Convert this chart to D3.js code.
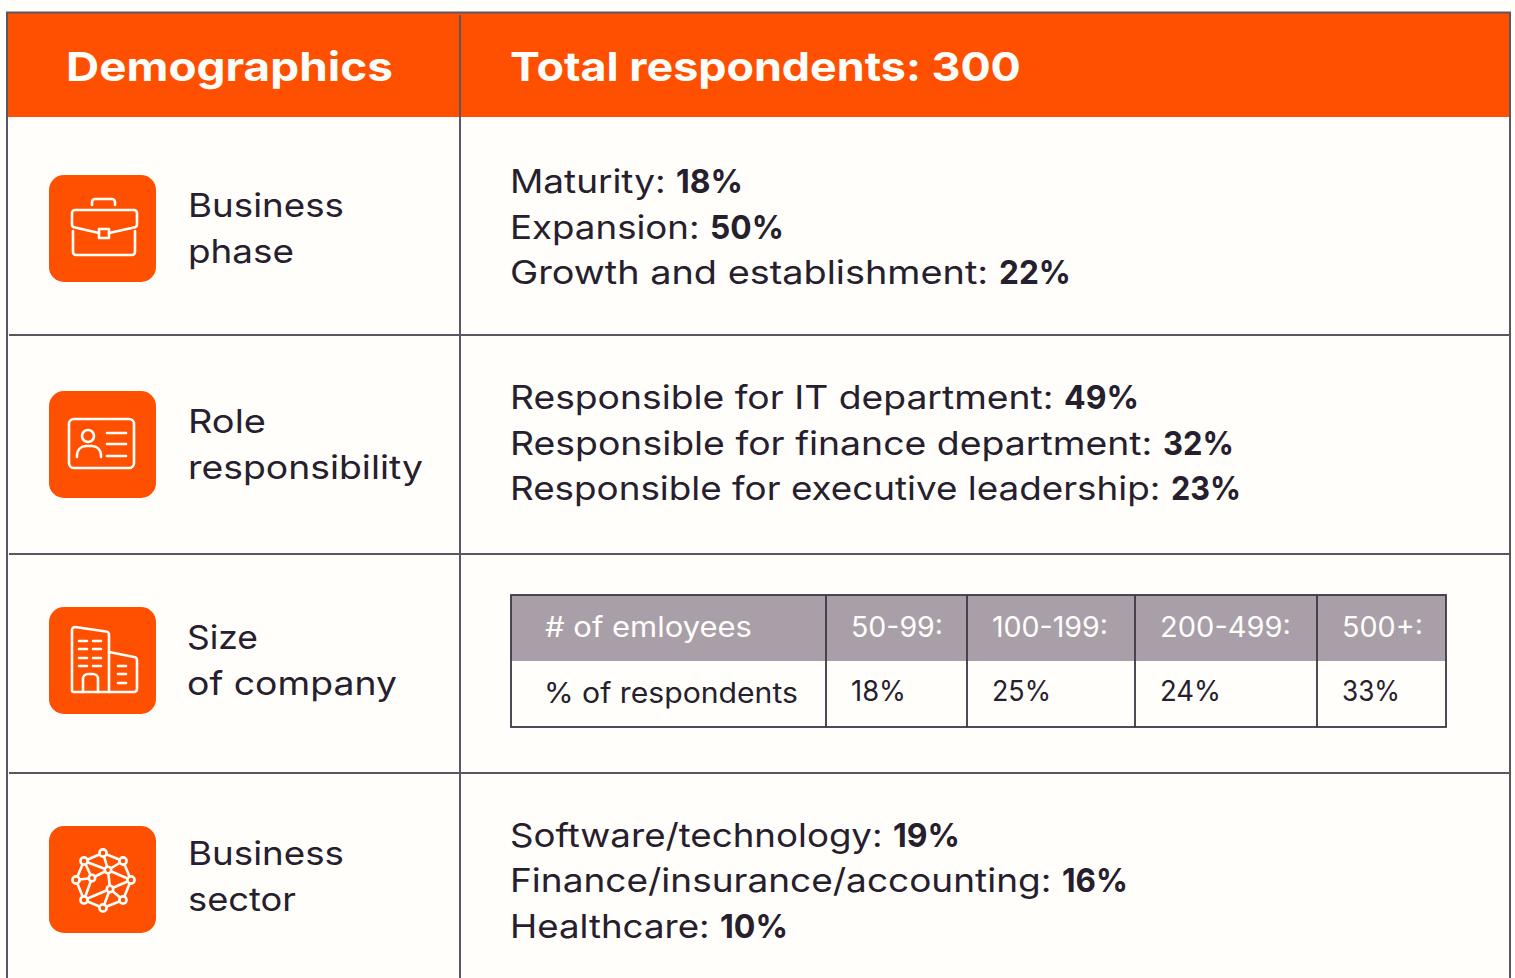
<!DOCTYPE html>
<html><head><meta charset="utf-8">
<script src="https://cdnjs.cloudflare.com/ajax/libs/d3/7.8.5/d3.min.js"></script>
<style>html,body{margin:0;padding:0;background:#fffefa;overflow:hidden}svg{display:block}text{font-family:Inter,"Noto Sans",sans-serif;white-space:pre}</style>
</head><body><svg id="c" width="1515" height="978"></svg>
<script>
const headers = ["Demographics", "Total respondents: 300"];
const rowLabels = [["Business","phase"],["Role","responsibility"],["Size","of company"],["Business","sector"]];
const phaseItems = [["Maturity: ","18%"],["Expansion: ","50%"],["Growth and establishment: ","22%"]];
const roleItems = [["Responsible for IT department: ","49%"],["Responsible for finance department: ","32%"],["Responsible for executive leadership: ","23%"]];
const sectorItems = [["Software/technology: ","19%"],["Finance/insurance/accounting: ","16%"],["Healthcare: ","10%"]];
const sizeHead = ["# of emloyees","50-99:","100-199:","200-499:","500+:"];
const sizeVals = ["% of respondents","18%","25%","24%","33%"];

// layout (pixels)
const C = {orange:"#ff4f00", line:"#5b5662", ink:"#26202e", bg:"#fffefa", grey:"#a89fa9", tline:"#3d3745"};
const rowY = [12,117,335,554,773,978];
const iconY = [175,391,607,826];
const labelX = [188,188,187,188];
const labelEnds = [[344,294],[266,423],[258,397],[344,296]];
const labelBase = [[217,263],[433,479],[649,695],[865,911]];
const boldStarts = [[676,710,999],[1064,1163,1171],[],[893,1062,720]];
const itemEnds = [[743,784,1071],[1139,1234,1241],[],[960,1128,788]];
const itemBase = [[193,239,284],[409,455,500],[],[847,892,938]];
const tableX = [511,826,967,1135,1317,1446];
const tableY = [595,661,727];
const headEnds = [752,943,1108,1291,1423];
const valEnds = [798,906,1051,1221,1400];
const valBase = [703,701,701,701,701];

const svg = d3.select("#c");
svg.append("rect").attr("width",1515).attr("height",978).attr("fill",C.bg);

// fit a text's run to a target right edge by widening its glyphs
function fit(sel, x, y, end){
  const w = sel.node().getComputedTextLength();
  sel.attr("x",0).attr("y",0).attr("transform",`translate(${x},${y}) scale(${(end-x)/w},1)`);
}
function put(g, str, x, y, end, size, weight, fill){
  const t = g.append("text").attr("font-size",size).attr("font-weight",weight).attr("fill",fill).text(str);
  fit(t,x,y,end); return t;
}

// header band
svg.append("rect").attr("x",7).attr("y",rowY[0]).attr("width",1503).attr("height",rowY[1]-rowY[0]).attr("fill",C.orange);
put(svg,headers[0],66,81,393,40,700,"#fffefa");
put(svg,headers[1],510,81,1021,40,700,"#fffefa");

// grid
const lines = svg.append("g").attr("stroke",C.line).attr("stroke-width",2).attr("fill","none");
lines.append("line").attr("x1",6).attr("x2",1511).attr("y1",12.5).attr("y2",12.5);
rowY.slice(2,5).forEach(y=>lines.append("line").attr("x1",9).attr("x2",1509).attr("y1",y).attr("y2",y));
[7,460,1510].forEach(x=>lines.append("line").attr("x1",x).attr("x2",x).attr("y1",x===460?15:12).attr("y2",978));

// row labels
rowLabels.forEach((ls,i)=>ls.forEach((s,j)=>put(svg,s,labelX[i],labelBase[i][j],labelEnds[i][j],33,400,C.ink)));

// mixed regular/bold lists
[phaseItems,roleItems,[],sectorItems].forEach((items,i)=>items.forEach((it,j)=>{
  put(svg,it[0],510,itemBase[i][j],boldStarts[i][j],33,400,C.ink);
  put(svg,it[1],boldStarts[i][j],itemBase[i][j],itemEnds[i][j],33,700,C.ink);
}));

// inner table
const tb = svg.append("g");
tb.append("rect").attr("x",tableX[0]).attr("y",tableY[0]).attr("width",tableX[5]-tableX[0]).attr("height",tableY[1]-tableY[0]).attr("fill",C.grey);
tb.append("rect").attr("x",tableX[0]).attr("y",tableY[0]).attr("width",tableX[5]-tableX[0]).attr("height",tableY[2]-tableY[0]).attr("fill","none").attr("stroke",C.tline).attr("stroke-width",1.8);
tableX.slice(1,5).forEach(x=>tb.append("line").attr("x1",x).attr("x2",x).attr("y1",tableY[0]).attr("y2",tableY[2]).attr("stroke",C.tline).attr("stroke-width",1.8));
sizeHead.forEach((s,i)=>put(tb,s,tableX[i]+(i?25:34),637,headEnds[i],28,400,"#fffefa"));
sizeVals.forEach((s,i)=>put(tb,s,tableX[i]+(i?25:33),valBase[i],valEnds[i],28,400,C.ink));

// icons
iconY.forEach(y=>svg.append("rect").attr("x",49).attr("y",y).attr("width",107).attr("height",107).attr("rx",15).attr("fill",C.orange));
const ic = i=>svg.append("g").attr("transform",`translate(49,${iconY[i]})`).attr("fill","none").attr("stroke","#fffefa").attr("stroke-width",2.6).attr("stroke-linecap","round").attr("stroke-linejoin","round");

const a = ic(0);
a.append("path").attr("d","M43 30v-3a3 3 0 0 1 3-3h17a3 3 0 0 1 3 3v3");
a.append("path").attr("d","M50 58L26 52.500a3 3 0 0 1-3-3V38a3 3 0 0 1 3-3h59a3 3 0 0 1 3 3v11.500a3 3 0 0 1-3 3L60 58");
a.append("rect").attr("x",50).attr("y",54).attr("width",10).attr("height",9);
a.append("path").attr("d","M24 56v21a3 3 0 0 0 3 3h56a3 3 0 0 0 3-3V56");

const b = ic(1);
b.append("rect").attr("x",20).attr("y",28).attr("width",65).attr("height",49).attr("rx",5);
b.append("circle").attr("cx",39).attr("cy",45).attr("r",6);
b.append("path").attr("d","M28 66v-2a9 9 0 0 1 9-9h6a9 9 0 0 1 9 9v2");
[42,53,65].forEach(y=>b.append("line").attr("x1",58).attr("x2",77).attr("y1",y).attr("y2",y));

const c = ic(2);
c.append("path").attr("d","M23 83V23a3 3 0 0 1 3-3L57 24.500a3 3 0 0 1 3 3V85H25a2 2 0 0 1-2-2z");
c.append("path").attr("d","M60 45L85 50a3 3 0 0 1 3 3V82a3 3 0 0 1-3 3H60");
[34,42,51,59].forEach(y=>[[30,38],[44,52]].forEach(x=>c.append("line").attr("x1",x[0]).attr("x2",x[1]).attr("y1",y).attr("y2",y)));
c.append("path").attr("d","M34 85V72a5 5 0 0 1 5-5h5a5 5 0 0 1 5 5v13");
[59,67,76].forEach(y=>c.append("line").attr("x1",69).attr("x2",77).attr("y1",y).attr("y2",y));

const d = ic(3);
const nodes = [[54,27],[74,35],[82,54],[74,74],[54,82],[35,74],[27,54],[35,35],[59,44],[43,52],[61,63]];
const edges = [[0,1],[1,2],[2,3],[3,4],[4,5],[5,6],[6,7],[7,0],[0,8],[1,8],[7,8],[7,9],[8,9],[9,6],[9,5],[8,2],[8,10],[10,2],[10,5],[10,4],[10,3]];
edges.forEach(e=>d.append("line").attr("x1",nodes[e[0]][0]).attr("y1",nodes[e[0]][1]).attr("x2",nodes[e[1]][0]).attr("y2",nodes[e[1]][1]));
nodes.forEach((n,i)=>d.append("circle").attr("cx",n[0]).attr("cy",n[1]).attr("r",i>7?3.2:3.6).attr("fill",C.orange));
</script></body></html>
